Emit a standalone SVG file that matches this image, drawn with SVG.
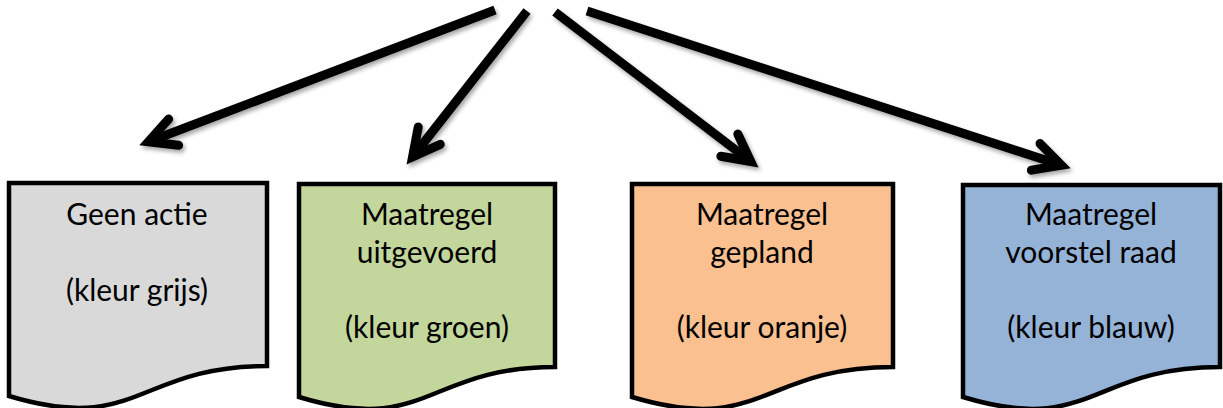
<svg xmlns="http://www.w3.org/2000/svg" width="1223" height="408" viewBox="0 0 1223 408">
<style>
.doc{stroke:#000;stroke-width:4.5;stroke-linejoin:miter}
.t{font-family:Lato,"Liberation Sans",sans-serif;font-size:30px;fill:#000;text-anchor:middle}
.arr{stroke:#000;stroke-width:9;fill:none;marker-end:url(#chev)}
</style>
<defs>
<marker id="chev" markerUnits="userSpaceOnUse" markerWidth="60" markerHeight="60" viewBox="-40 -30 60 60" refX="0" refY="0" orient="auto" overflow="visible">
<polyline points="-27,-14 0,0 -27,14" fill="none" stroke="#000" stroke-width="9" stroke-linejoin="miter" stroke-linecap="round" stroke-miterlimit="10"/>
</marker>
<filter id="sh" x="-20%" y="-20%" width="140%" height="140%">
<feDropShadow dx="2" dy="3" stdDeviation="2" flood-color="#000" flood-opacity="0.35"/>
</filter>
</defs>
<g id="connectors" filter="url(#sh)">
<line class="arr" x1="495" y1="10" x2="148.4" y2="141.8"/>
<line class="arr" x1="527" y1="11" x2="412.6" y2="156.9"/>
<line class="arr" x1="555" y1="12" x2="750.8" y2="161.5"/>
<line class="arr" x1="587" y1="11" x2="1061.4" y2="165.2"/>
</g>
<g id="node-grijs">
<path class="doc" fill="#D9D9D9" d="M9,183 H267 V366 C138,366 138,435 9,396 Z"/>
<text class="t" x="137" y="225">Geen actie</text>
<text class="t" x="137" y="301">(kleur grijs)</text>
</g>
<g id="node-groen">
<path class="doc" fill="#C3D69B" d="M299,184 H555 V367 C427,367 427,436 299,397 Z"/>
<text class="t" x="427" y="225">Maatregel</text>
<text class="t" x="427" y="263">uitgevoerd</text>
<text class="t" x="427" y="338">(kleur groen)</text>
</g>
<g id="node-oranje">
<path class="doc" fill="#FAC090" d="M632,184 H893 V367 C762,367 762,436 632,397 Z"/>
<text class="t" x="762" y="225">Maatregel</text>
<text class="t" x="762" y="263">gepland</text>
<text class="t" x="762" y="338">(kleur oranje)</text>
</g>
<g id="node-blauw">
<path class="doc" fill="#95B3D7" d="M963,185 H1220 V367 C1091,367 1091,436 963,397 Z"/>
<text class="t" x="1091" y="225">Maatregel</text>
<text class="t" x="1091" y="263">voorstel raad</text>
<text class="t" x="1091" y="338">(kleur blauw)</text>
</g>
</svg>
